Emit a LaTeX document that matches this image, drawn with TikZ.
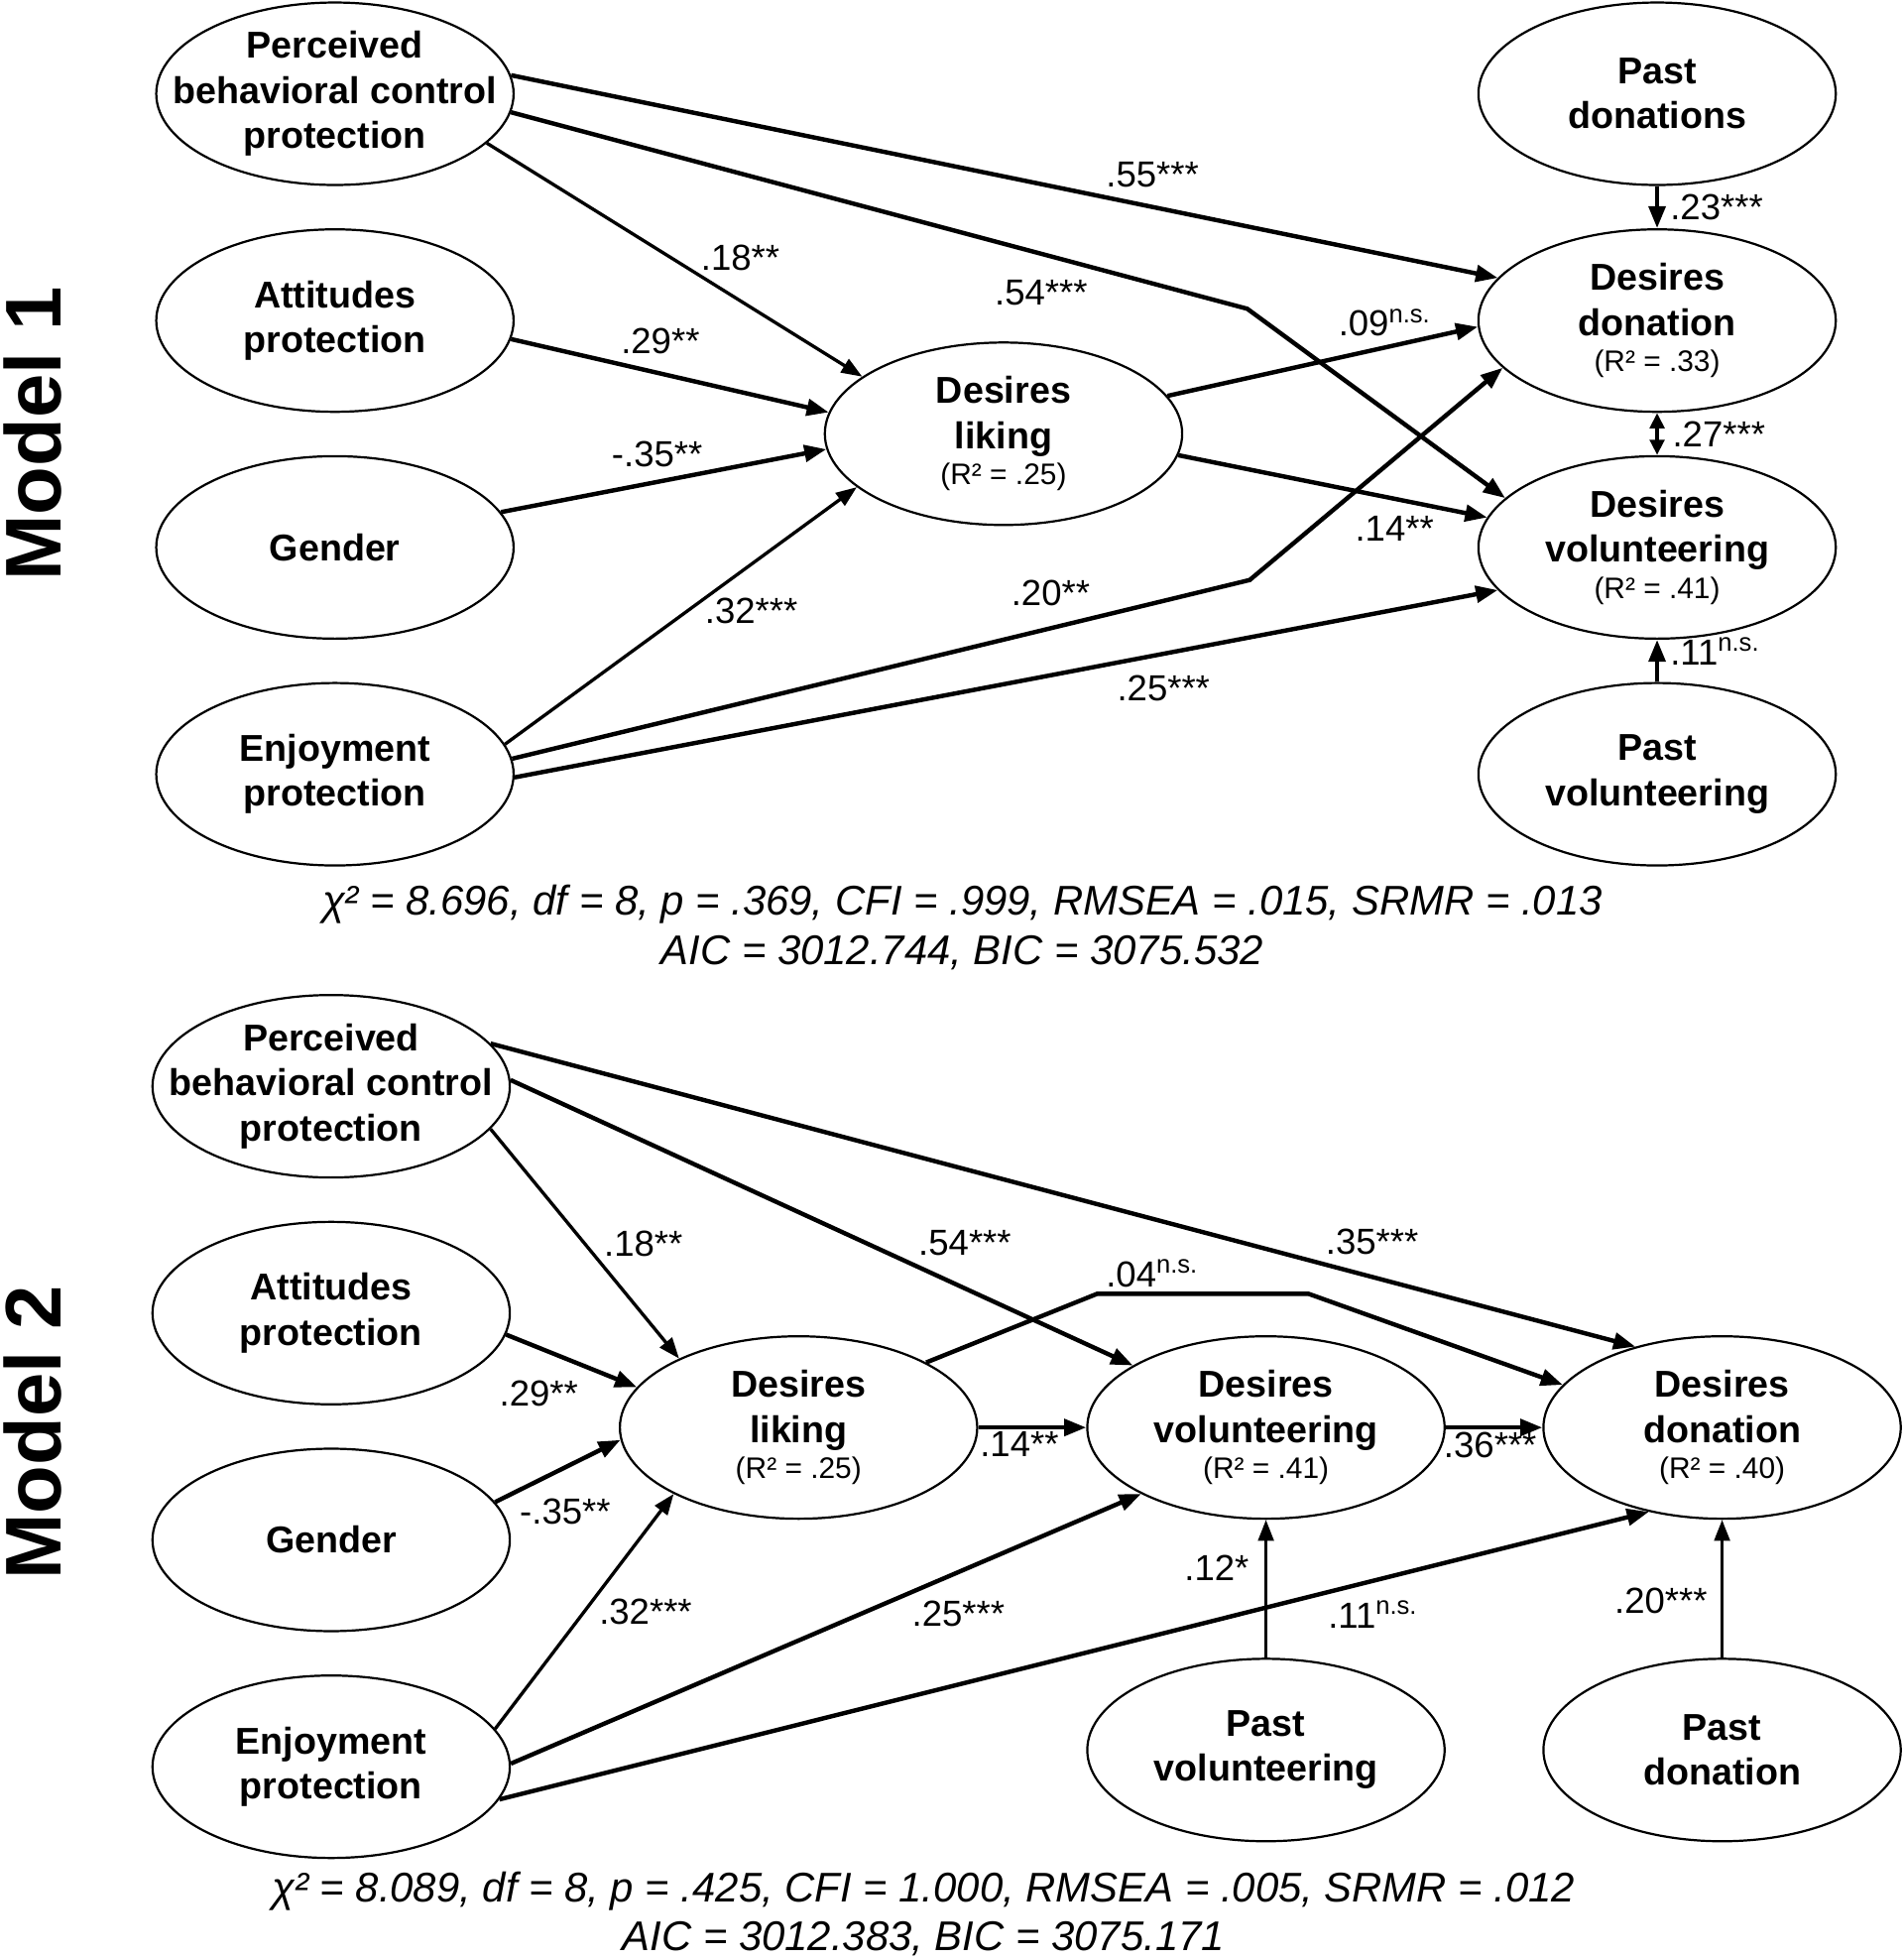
\documentclass[tikz,border=0pt]{standalone}
\usepackage{fontspec}
\setmainfont{Liberation Sans}
\usetikzlibrary{arrows.meta, shapes.geometric, positioning}

\newcommand{\rsq}[1]{\\[-4pt]{\normalfont\fontsize{13.5}{15}\selectfont (R² = #1)}}
\newcommand{\nsig}{\textsuperscript{n.s.}}

\tikzset{
  latent/.style={draw, ellipse, line width=1pt, minimum width=5.72cm, minimum height=2.92cm, inner sep=-20pt, align=center, font=\bfseries\fontsize{17}{20.5}\selectfont},
  coef/.style={font=\fontsize{16.5}{19}\selectfont, inner sep=1pt},
  arr/.style={line width=2pt, -{Triangle[length=10pt,width=7.5pt]}},
  arrthin/.style={line width=1.5pt, -{Triangle[length=9.5pt,width=7pt]}},
  covar/.style={line width=2pt, {Triangle[length=7pt,width=6.5pt]}-{Triangle[length=7pt,width=6.5pt]}},
  fitstat/.style={align=center, font=\itshape\fontsize{18.9}{22.2}\selectfont},
  modellabel/.style={rotate=90, font=\bfseries\fontsize{36}{40}\selectfont}
}

\begin{document}
\begin{tikzpicture}[x=0.02cm, y=-0.02cm, node distance=3.63cm]
    \useasboundingbox (0,0) rectangle (1522,1568);

    \node[modellabel] (m1) at (26,347) {Model 1};
    \node[latent] (pbc1) at (268,75) {Perceived\\behavioral control\\protection};
    \node[latent, below of=pbc1] (att1) {Attitudes\\protection};
    \node[latent, below of=att1] (gen1) {Gender};
    \node[latent, below of=gen1] (enj1) {Enjoyment\\protection};
    \node[latent] (lik1) at (803,347) {Desires\\liking\rsq{.25}};
    \node[latent] (pdo1) at (1326,75) {Past\\donations};
    \node[latent, below of=pdo1] (ddo1) {Desires\\donation\rsq{.33}};
    \node[latent, below of=ddo1] (dvo1) {Desires\\volunteering\rsq{.41}};
    \node[latent, below of=dvo1] (pvo1) {Past\\volunteering};
    \coordinate (k1) at (998,247);
    \coordinate (k2) at (1000,464);

    \draw[arr] (pbc1.6) -- node[coef, pos=0.65, above=7pt] {.55***} (ddo1.165);
    \draw[arr] (pbc1.-6) -- node[coef, pos=0.72, below=10pt] {.54***} (k1) -- (dvo1.162);
    \draw[arrthin] (pbc1.-18) -- node[coef, pos=0.49, right=12pt] {.18**} (lik1.158);
    \draw[arr] (att1.-6) -- node[coef, pos=0.47, above=7pt] {.29**} (lik1.173);
    \draw[arr] (gen1.12) -- node[coef, pos=0.48, above=5pt] {-.35**} (lik1.-175);
    \draw[arrthin] (enj1.10) -- node[coef, pos=0.52, right=6pt] {.32***} (lik1.-160);
    \draw[arr] (enj1.5) -- node[coef, pos=0.73, above=8pt] {.20**} (k2) -- (ddo1.-163);
    \draw[arr] (enj1.-1) -- node[coef, pos=0.66, below=8pt] {.25***} (dvo1.-165);
    \draw[arr] (lik1.13) -- node[coef, pos=0.7, above=3pt] {.09\nsig} (ddo1.-178);
    \draw[arr] (lik1.-7) -- node[coef, pos=0.7, below=6pt] {.14**} (dvo1.170);
    \draw[arr] (pdo1) -- node[coef, pos=0.5, right=4pt] {.23***} (ddo1);
    \draw[covar] (ddo1) -- node[coef, pos=0.5, right=5pt] {.27***} (dvo1);
    \draw[arr] (pvo1) -- node[coef, pos=0.73, right=4pt] {.11\nsig} (dvo1);

    \node[fitstat] (fit1) at (770,742) {χ² = 8.696, df = 8, p = .369, CFI = .999, RMSEA = .015, SRMR = .013\\AIC = 3012.744, BIC = 3075.532};

    \node[modellabel] (m2) at (26,1146) {Model 2};
    \node[latent] (pbc2) at (265,869) {Perceived\\behavioral control\\protection};
    \node[latent, below of=pbc2] (att2) {Attitudes\\protection};
    \node[latent, below of=att2] (gen2) {Gender};
    \node[latent, below of=gen2] (enj2) {Enjoyment\\protection};
    \node[latent] (lik2) at (639,1142) {Desires\\liking\rsq{.25}};
    \node[latent] (dvo2) at (1013,1142) {Desires\\volunteering\rsq{.41}};
    \node[latent] (ddo2) at (1378,1142) {Desires\\donation\rsq{.40}};
    \node[latent] (pvo2) at (1013,1400) {Past\\volunteering};
    \node[latent] (pdn2) at (1378,1400) {Past\\donation};
    \coordinate (k3) at (878,1035);
    \coordinate (k4) at (1047,1035);

    \draw[arrthin] (pbc2.-15) -- node[coef, pos=0.5, right=7pt] {.18**} (lik2.150);
    \draw[arr] (pbc2.2) -- node[coef, pos=0.73, above=13pt] {.54***} (dvo2.155);
    \draw[arr] (pbc2.15) -- node[coef, pos=0.77, above=8pt] {.35***} (ddo2.137);
    \draw[arr] (att2.-7) -- node[coef, pos=0.25, below=13pt] {.29**} (lik2.166);
    \draw[arr] (gen2.13) -- node[coef, pos=0.15, below right=1pt] {-.35**} (lik2.-176);
    \draw[arrthin] (enj2.13) -- node[coef, pos=0.5, right=5pt] {.32***} (lik2.-152);
    \draw[arr] (enj2.1) -- node[coef, pos=0.71, below=11pt] {.25***} (dvo2.-152);
    \draw[arr] (enj2.-11) -- node[coef, pos=0.76, below=7pt] {.11\nsig} (ddo2.-131);
    \draw[arr] (lik2.27) -- (k3) -- node[coef, pos=0.26, above=1pt] {.04\nsig} (k4) -- (ddo2.165);
    \draw[arr] (lik2) -- node[coef, pos=0.38, below=0pt] {.14**} (dvo2);
    \draw[arr] (dvo2) -- node[coef, pos=0.46, below=0pt] {.36***} (ddo2);
    \draw[arrthin] (pvo2) -- node[coef, pos=0.65, left=6pt] {.12*} (dvo2);
    \draw[arrthin] (pdn2) -- node[coef, pos=0.41, left=5pt] {.20***} (ddo2);

    \node[fitstat] (fit2) at (739,1531) {χ² = 8.089, df = 8, p = .425, CFI = 1.000, RMSEA = .005, SRMR = .012\\AIC = 3012.383, BIC = 3075.171};
\end{tikzpicture}
\end{document}
